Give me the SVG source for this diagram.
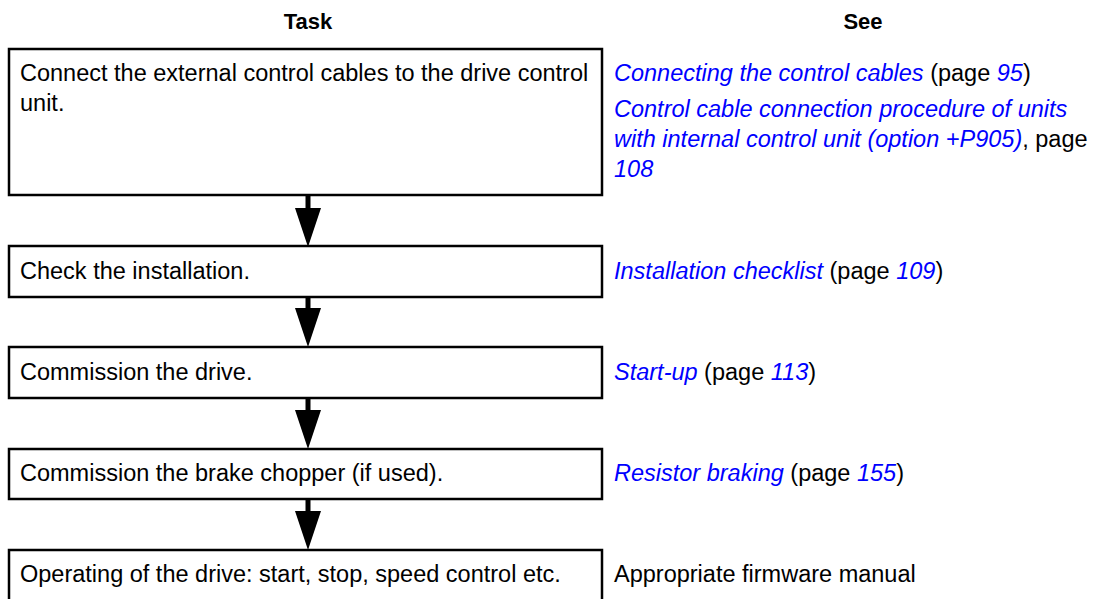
<svg xmlns="http://www.w3.org/2000/svg" width="1103" height="599" viewBox="0 0 1103 599">
<style>
  .box { fill: #ffffff; stroke: #000000; stroke-width: 2.5; }
  .t { font-family: "Liberation Sans", Arial, sans-serif; font-size: 23.5px; fill: #000000; }
  .h { font-family: "Liberation Sans", Arial, sans-serif; font-size: 22px; font-weight: bold; fill: #000000; text-anchor: middle; }
  .l { font-style: italic; fill: #0000ff; }
  .conn { stroke: #000000; stroke-width: 5; fill: none; }
</style>
<defs>
  <marker id="head" markerUnits="userSpaceOnUse" markerWidth="40" markerHeight="26" refX="0" refY="13" orient="auto">
    <path d="M0,0 L39,13 L0,26 z" fill="#000000"/>
  </marker>
</defs>
<rect width="1103" height="599" fill="#ffffff"/>
<g id="headers">
  <text class="h" x="308" y="28.5">Task</text>
  <text class="h" x="863" y="28.5">See</text>
</g>
<g id="connectors">
  <line class="conn" x1="308" y1="195" x2="308" y2="208" marker-end="url(#head)"/>
  <line class="conn" x1="308" y1="297" x2="308" y2="308" marker-end="url(#head)"/>
  <line class="conn" x1="308" y1="398" x2="308" y2="410" marker-end="url(#head)"/>
  <line class="conn" x1="308" y1="499" x2="308" y2="511" marker-end="url(#head)"/>
</g>
<g id="task1">
  <rect class="box" x="9" y="49" width="593" height="146"/>
  <text class="t" x="20" y="81">Connect the external control cables to the drive control</text>
  <text class="t" x="20" y="111">unit.</text>
</g>
<g id="see1">
  <text class="t" x="614" y="81"><tspan class="l">Connecting the control cables</tspan> (page <tspan class="l">95</tspan>)</text>
  <text class="t" x="614" y="117"><tspan class="l">Control cable connection procedure of units</tspan></text>
  <text class="t" x="614" y="147"><tspan class="l">with internal control unit (option +P905)</tspan>, page</text>
  <text class="t" x="614" y="177"><tspan class="l">108</tspan></text>
</g>
<g id="task2">
  <rect class="box" x="9" y="246" width="593" height="51"/>
  <text class="t" x="20" y="279">Check the installation.</text>
</g>
<g id="see2">
  <text class="t" x="614" y="279"><tspan class="l">Installation checklist</tspan> (page <tspan class="l">109</tspan>)</text>
</g>
<g id="task3">
  <rect class="box" x="9" y="347" width="593" height="51"/>
  <text class="t" x="20" y="380">Commission the drive.</text>
</g>
<g id="see3">
  <text class="t" x="614" y="380"><tspan class="l">Start-up</tspan> (page <tspan class="l">113</tspan>)</text>
</g>
<g id="task4">
  <rect class="box" x="9" y="449" width="593" height="50"/>
  <text class="t" x="20" y="481">Commission the brake chopper (if used).</text>
</g>
<g id="see4">
  <text class="t" x="614" y="481"><tspan class="l">Resistor braking</tspan> (page <tspan class="l">155</tspan>)</text>
</g>
<g id="task5">
  <rect class="box" x="9" y="550" width="593" height="60"/>
  <text class="t" x="20" y="582">Operating of the drive: start, stop, speed control etc.</text>
</g>
<g id="see5">
  <text class="t" x="614" y="582">Appropriate firmware manual</text>
</g>
</svg>
